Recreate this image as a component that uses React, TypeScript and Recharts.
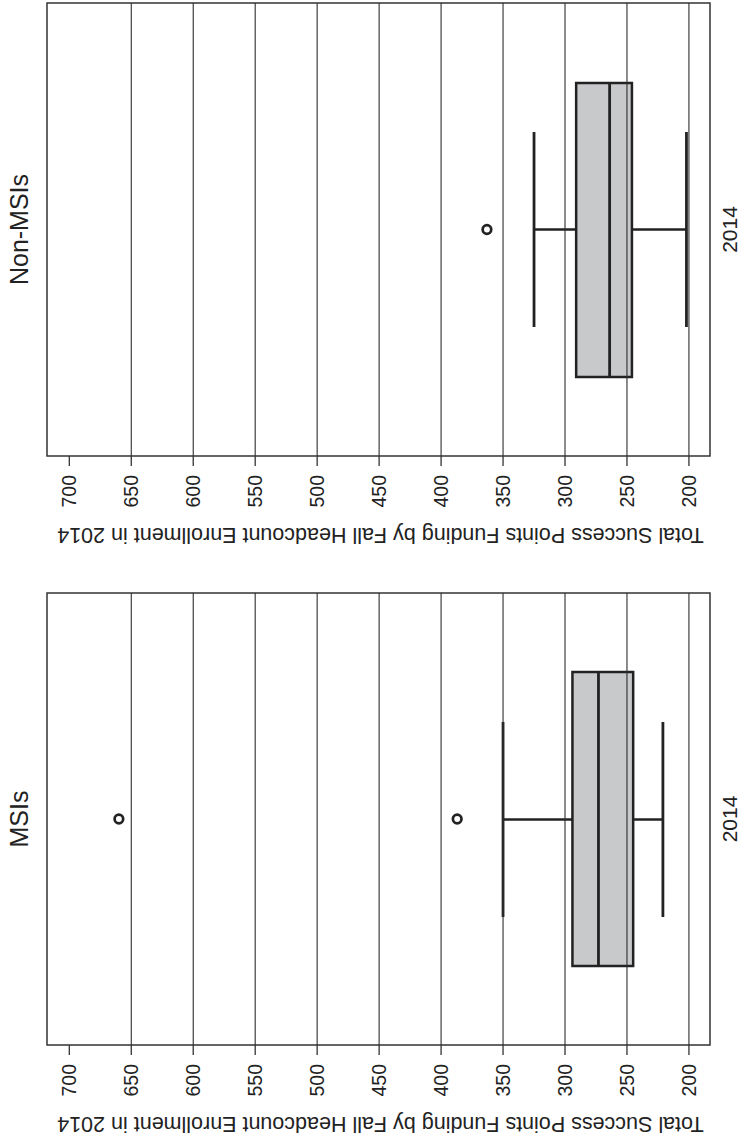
import React from 'react';
import { ComposedChart, Bar, Scatter, XAxis, YAxis, ReferenceLine, ReferenceArea } from 'recharts';

const categories = ['2014'];
const panelTitles = ['Non-MSIs', 'MSIs'];
const valueTicks = [700, 650, 600, 550, 500, 450, 400, 350, 300, 250, 200];
const gridValues = [650, 600, 550, 500, 450, 400, 350, 300, 250, 200];
const valueDomain = [183, 718];
const axisTitle = 'Total Success Points Funding by Fall Headcount Enrollment in 2014';

// [lower whisker, Q1, median, Q3, upper whisker]
const nonMsiStats = [202, 246, 264, 291, 325];
const nonMsiOutliers = [363];
const msiStats = [221, 245, 273, 294, 350];
const msiOutliers = [387, 660];

const FONT = '"Liberation Sans", Arial, Helvetica, sans-serif';
const INK = '#222';
const BOX_PX = 294;
const CAP_PX = 195;

const ValueTick = (props: any) => {
  const { x, y, payload } = props;
  const ay = y + 7;
  return (
    <text x={x} y={ay} transform={`rotate(-90, ${x}, ${ay})`} textAnchor="end" dy="0.35em"
      fontFamily={FONT} fontSize={19.5} fill={INK}>{payload.value}</text>
  );
};

const CatTick = (props: any) => {
  const { y, payload } = props;
  const cx = 730;
  return (
    <text x={cx} y={y} transform={`rotate(-90, ${cx}, ${y})`} textAnchor="middle" dy="0.35em"
      fontFamily={FONT} fontSize={21} fill={INK}>{payload.value}</text>
  );
};

const AxisTitle = (props: any) => {
  const vb = props.viewBox || {};
  const cx = vb.x + vb.width / 2 + 2;
  const cy = vb.y + 80;
  return (
    <text x={cx} y={cy} transform={`rotate(180, ${cx}, ${cy})`} textAnchor="middle" dy="0.35em"
      fontFamily={FONT} fontSize={21.5} fill={INK}>{axisTitle}</text>
  );
};

const makePanelTitle = (title: string) => (props: any) => {
  const vb = props.viewBox || {};
  const cx = 19;
  const cy = vb.y + vb.height / 2;
  return (
    <text x={cx} y={cy} transform={`rotate(-90, ${cx}, ${cy})`} textAnchor="middle" dy="0.35em"
      fontFamily={FONT} fontSize={25} fill={INK}>{title}</text>
  );
};

const BoxShape = (props: any) => {
  const { x, y, width, height } = props;
  const left = Math.min(x, x + width);
  const w = Math.abs(width);
  return <rect x={left} y={y} width={w} height={height} fill="#c8c9cb" stroke={INK} strokeWidth={2.5} />;
};

const WhiskerShape = (props: any) => {
  const { x, y, width, height } = props;
  const cy = y + height / 2;
  const outer = x + width;
  return (
    <g>
      <line x1={x} y1={cy} x2={outer} y2={cy} stroke={INK} strokeWidth={2.5} />
      <line x1={outer} y1={y} x2={outer} y2={y + height} stroke={INK} strokeWidth={2.8} />
    </g>
  );
};

const MedianShape = (props: any) => {
  const { cx, cy } = props;
  return <line x1={cx} y1={cy - BOX_PX / 2} x2={cx} y2={cy + BOX_PX / 2} stroke={INK} strokeWidth={2.8} />;
};

const OutlierShape = (props: any) => {
  const { cx, cy } = props;
  return <circle cx={cx} cy={cy} r={4.3} fill="#fff" stroke={INK} strokeWidth={2.7} />;
};

type PanelProps = { title: string; stats: number[]; outliers: number[]; height: number };

const Panel = ({ title, stats, outliers, height }: PanelProps) => {
  const [wLow, q1, med, q3, wHigh] = stats;
  const data = [{ cat: categories[0], box: [q1, q3], wlo: [q1, wLow], whi: [q3, wHigh] }];
  const medianData = [{ cat: categories[0], v: med }];
  const outlierData = outliers.map((v) => ({ cat: categories[0], v }));
  return (
    <ComposedChart width={742} height={height} data={data} layout="vertical"
      margin={{ top: 3, right: 0, bottom: 0, left: 0 }}>
      <XAxis type="number" domain={valueDomain} allowDataOverflow reversed ticks={valueTicks} interval={0}
        height={96} tickSize={10} axisLine={false} tickLine={{ stroke: '#333', strokeWidth: 1.3 }}
        tick={<ValueTick />} label={<AxisTitle />} />
      <YAxis yAxisId="title" orientation="left" width={47} type="category" dataKey="cat"
        tick={false} axisLine={false} tickLine={false} label={makePanelTitle(title)} />
      <YAxis yAxisId="box" orientation="right" width={32} type="category" dataKey="cat"
        tickLine={false} axisLine={false} tickSize={0} tickMargin={0} tick={<CatTick />} />
      <YAxis yAxisId="wlo" type="category" dataKey="cat" hide />
      <YAxis yAxisId="whi" type="category" dataKey="cat" hide />
      <YAxis yAxisId="pts" type="category" dataKey="cat" hide allowDuplicatedCategory={false} />
      {gridValues.map((v) => (
        <ReferenceLine key={v} yAxisId="box" x={v} stroke="#2e2e2e" strokeWidth={1.1} />
      ))}
      <Bar yAxisId="wlo" dataKey="wlo" barSize={CAP_PX} shape={<WhiskerShape />} isAnimationActive={false} />
      <Bar yAxisId="whi" dataKey="whi" barSize={CAP_PX} shape={<WhiskerShape />} isAnimationActive={false} />
      <Bar yAxisId="box" dataKey="box" barSize={BOX_PX} shape={<BoxShape />} isAnimationActive={false} />
      <Scatter yAxisId="pts" data={medianData} dataKey="v" shape={<MedianShape />} isAnimationActive={false} />
      <Scatter yAxisId="pts" data={outlierData} dataKey="v" shape={<OutlierShape />} isAnimationActive={false} />
      <ReferenceArea yAxisId="box" x1={valueDomain[0]} x2={valueDomain[1]} fill="none" fillOpacity={0}
        stroke="#333" strokeWidth={1.5} />
    </ComposedChart>
  );
};

export default function App() {
  return (
    <div style={{ position: 'absolute', left: 0, top: 0, width: 742, height: 1141, background: '#fff' }}>
      <div style={{ position: 'absolute', left: 0, top: 0 }}>
        <Panel title={panelTitles[0]} stats={nonMsiStats} outliers={nonMsiOutliers} height={552} />
      </div>
      <div style={{ position: 'absolute', left: 0, top: 590 }}>
        <Panel title={panelTitles[1]} stats={msiStats} outliers={msiOutliers} height={551} />
      </div>
    </div>
  );
}
